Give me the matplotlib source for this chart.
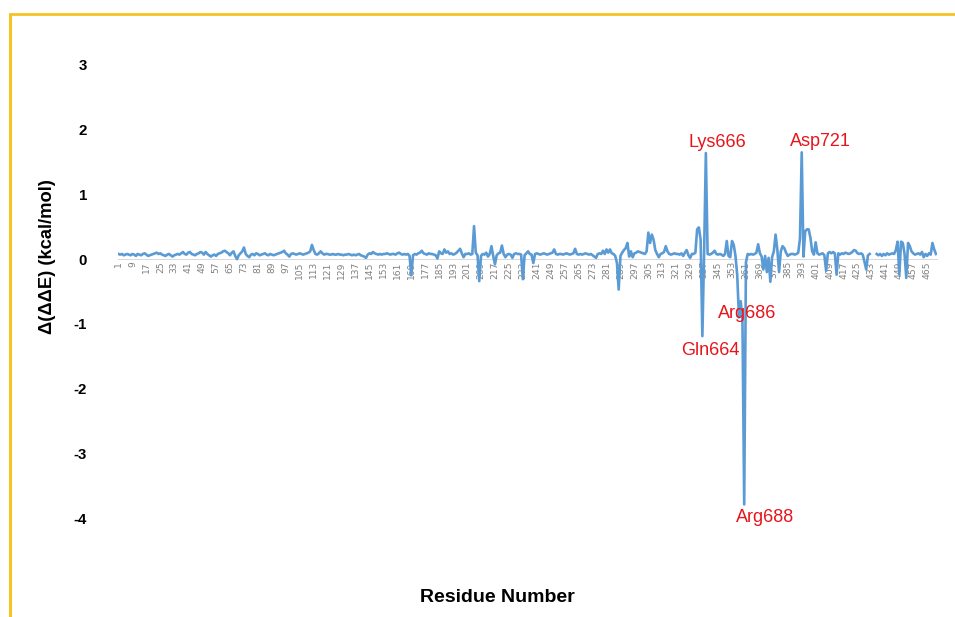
import numpy as np
import matplotlib
matplotlib.use("Agg")
import matplotlib.pyplot as plt
from matplotlib.lines import Line2D

plt.rcParams['font.family'] = ['Liberation Sans', 'DejaVu Sans']

nan = np.nan

# Per-residue change in binding free energy contribution, residues 1..470
delta_dde = [
    0.08, 0.07, 0.08, 0.06, 0.07, 0.08, 0.07, 0.06, 0.08, 0.07,
    0.05, 0.08, 0.07, 0.06, 0.08, 0.09, 0.07, 0.05, 0.06, 0.07,
    0.08, 0.09, 0.10, 0.08, 0.09, 0.07, 0.06, 0.05, 0.07, 0.08,
    0.06, 0.04, 0.06, 0.07, 0.08, 0.07, 0.09, 0.11, 0.08, 0.07,
    0.10, 0.11, 0.08, 0.07, 0.06, 0.08, 0.09, 0.11, 0.10, 0.07,
    0.11, 0.08, 0.06, 0.04, 0.06, 0.07, 0.05, 0.08, 0.09, 0.10,
    0.12, 0.13, 0.11, 0.09, 0.06, 0.10, 0.12, 0.05, 0.00, 0.06,
    0.09, 0.12, 0.18, 0.08, 0.05, 0.03, 0.07, 0.08, 0.06, 0.09,
    0.08, 0.06, 0.07, 0.08, 0.09, 0.07, 0.06, 0.08, 0.07, 0.06,
    0.07, 0.08, 0.09, 0.10, 0.11, 0.13, 0.09, 0.07, 0.04, 0.08,
    0.09, 0.08, 0.07, 0.08, 0.09, 0.08, 0.07, 0.08, 0.09, 0.10,
    0.12, 0.22, 0.14, 0.08, 0.07, 0.09, 0.12, 0.09, 0.07, 0.08,
    0.08, 0.07, 0.07, 0.08, 0.07, 0.07, 0.08, 0.07, 0.07, 0.06,
    0.07, 0.07, 0.08, 0.07, 0.06, 0.07, 0.06, 0.07, 0.08, 0.06,
    0.05, 0.04, 0.02, 0.07, 0.09, 0.08, 0.11, 0.09, 0.08, 0.07,
    0.08, 0.07, 0.08, 0.08, 0.09, 0.08, 0.07, 0.08, 0.08, 0.07,
    0.09, 0.10, 0.08, 0.07, 0.08, 0.07, 0.08, 0.05, -0.25, 0.06,
    0.08, 0.07, 0.09, 0.10, 0.13, 0.09, 0.08, 0.07, 0.09, 0.08,
    0.08, 0.07, 0.06, 0.01, 0.12, 0.09, 0.08, 0.15, 0.10, 0.12,
    0.08, 0.09, 0.07, 0.08, 0.10, 0.13, 0.16, 0.09, 0.03, 0.08,
    0.08, 0.09, 0.07, 0.08, 0.51, 0.10, 0.06, -0.34, 0.05, 0.08,
    0.07, 0.10, 0.04, 0.08, 0.20, 0.05, -0.08, 0.06, 0.09, 0.10,
    0.21, 0.08, 0.03, 0.07, 0.08, 0.07, 0.02, 0.08, 0.09, 0.08,
    0.08, 0.07, -0.31, 0.06, 0.09, 0.12, 0.08, 0.07, -0.06, 0.08,
    0.09, 0.08, 0.07, 0.08, 0.09, 0.08, 0.07, 0.08, 0.09, 0.10,
    0.15, 0.08, 0.07, 0.08, 0.08, 0.07, 0.08, 0.09, 0.08, 0.07,
    0.08, 0.09, 0.16, 0.08, 0.07, 0.08, 0.07, 0.08, 0.09, 0.08,
    0.07, 0.08, 0.06, 0.04, 0.02, 0.08, 0.09, 0.08, 0.13, 0.08,
    0.15, 0.10, 0.15, 0.09, 0.08, 0.05, -0.06, -0.47, 0.05, 0.10,
    0.14, 0.17, 0.25, 0.04, 0.12, 0.03, 0.09, 0.10, 0.12, 0.11,
    0.10, 0.09, 0.08, 0.12, 0.41, 0.25, 0.38, 0.30, 0.14, 0.08,
    0.03, 0.08, 0.09, 0.11, 0.20, 0.12, 0.08, 0.07, 0.08, 0.09,
    0.08, 0.08, 0.07, 0.09, 0.05, 0.10, 0.14, 0.06, 0.02, 0.08,
    0.08, 0.10, 0.46, 0.49, 0.30, -1.19, 0.10, 1.64, 0.08, 0.07,
    0.08, 0.10, 0.13, 0.08, 0.07, 0.08, 0.07, 0.05, 0.08, 0.28,
    0.05, 0.03, 0.28, 0.22, 0.05, -0.25, -0.90, -0.65, -0.95, -3.79,
    -0.05, 0.08, 0.07, 0.08, 0.07, 0.08, 0.10, 0.23, 0.09, 0.04,
    -0.16, 0.05, -0.20, 0.02, -0.35, 0.03, 0.12, 0.38, 0.15, -0.20,
    0.12, 0.20, 0.17, 0.10, 0.05, 0.07, 0.08, 0.08, 0.07, 0.08,
    0.10, 0.32, 1.65, 0.04, 0.43, 0.46, 0.46, 0.33, 0.12, 0.07,
    0.26, 0.09, 0.07, 0.08, 0.09, 0.06, -0.18, 0.09, 0.11, 0.09,
    0.11, 0.09, -0.24, 0.09, 0.07, 0.09, 0.08, 0.10, 0.09, 0.08,
    0.09, 0.11, 0.14, 0.13, 0.09, 0.08, 0.09, 0.07, -0.04, -0.16,
    0.06, 0.08, nan, nan, nan, 0.08, 0.06, 0.08, 0.05, 0.08,
    0.06, 0.09, 0.07, 0.08, 0.09, 0.08, 0.14, 0.27, -0.24, 0.27,
    0.25, 0.08, -0.29, 0.25, 0.20, 0.12, 0.09, 0.07, 0.08, 0.09,
    0.07, 0.11, 0.03, 0.08, 0.05, 0.09, 0.07, 0.25, 0.15, 0.08,
]
residues = np.arange(1, len(delta_dde) + 1)

# Highlighted hot-spot residues: (label, residue index)
hotspot_labels = ["Lys666", "Asp721", "Gln664", "Arg686", "Arg688"]
hotspot_index = [338, 393, 336, 358, 360]
# label offsets in pixels relative to the point
hotspot_offsets = [(12, 11), (19, 11), (8, -14), (6, -12), (21, -13)]

y_ticks = [-4, -3, -2, -1, 0, 1, 2, 3]
x_tick_values = list(range(1, len(delta_dde) + 1, 8))

W, H = 955, 617
fig = plt.figure(figsize=(W / 100, H / 100), dpi=100)
ax = fig.add_axes([117.6 / W, 1 - 518 / H, 819.2 / W, 453 / H])

ax.plot(residues, delta_dde, color='#5B9BD5', lw=1.9, zorder=3)

ax.set_xlim(0.5, len(delta_dde) + 0.5)
ax.set_ylim(-4, 3)

for side in ('top', 'right', 'left'):
    ax.spines[side].set_visible(False)
ax.spines['bottom'].set_position(('data', 0))
ax.spines['bottom'].set_color('#D9D9D9')
ax.spines['bottom'].set_linewidth(0.75)
ax.spines['bottom'].set_zorder(1)

ax.set_xticks(x_tick_values)
ax.set_xticklabels([str(v) for v in x_tick_values], rotation=90,
                   fontsize=6.6, color='#7F7F7F', family='DejaVu Sans')
ax.tick_params(axis='x', length=0, pad=1.5)

ax.set_yticks(y_ticks)
ax.set_yticklabels([str(v) for v in y_ticks], fontsize=10.8,
                   fontweight='bold', color='black')
ax.tick_params(axis='y', length=0, pad=22)

for lab, idx, off in zip(hotspot_labels, hotspot_index, hotspot_offsets):
    ax.annotate(lab, xy=(idx, delta_dde[idx - 1]), xytext=off,
                textcoords='offset pixels', ha='center', va='center',
                color='#E8141B', fontsize=13, zorder=4)

fig.text(47 / W, 1 - 257 / H, 'Δ(ΔΔE) (kcal/mol)', rotation=90,
         ha='center', va='center', fontsize=13.2, fontweight='bold')
fig.text(497 / W, 1 - 598 / H, 'Residue Number', ha='center', va='center',
         fontsize=14, fontweight='bold')

# Gold frame along the top and left edges
gold = '#F6C324'
fig.add_artist(Line2D([9 / W, 1.0], [1 - 14 / H, 1 - 14 / H],
                      transform=fig.transFigure, color=gold, lw=2.0,
                      solid_capstyle='butt'))
fig.add_artist(Line2D([10 / W, 10 / W], [1 - 13 / H, 0.0],
                      transform=fig.transFigure, color=gold, lw=2.2,
                      solid_capstyle='butt'))

fig.savefig('out.png', dpi=100)
